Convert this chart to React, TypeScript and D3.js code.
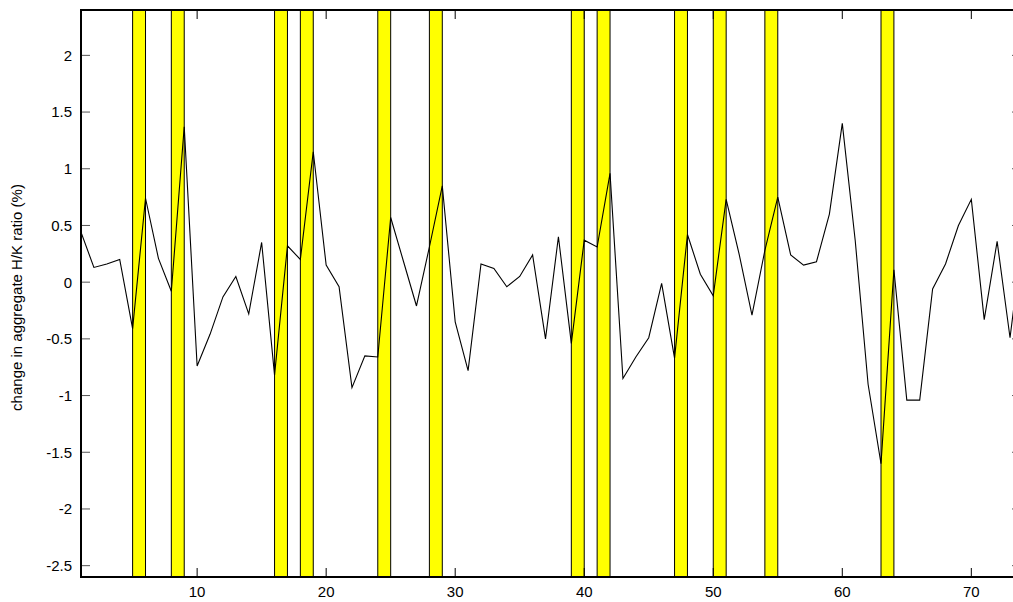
import React from "react";
import * as d3 from "d3";

const W = 1013;
const H = 602;

// change in aggregate H/K ratio (%), one value per period starting at period 1
const values: number[] = [
  0.44, 0.13, 0.16, 0.2, -0.41, 0.74, 0.21, -0.08, 1.37, -0.74,
  -0.46, -0.13, 0.05, -0.28, 0.35, -0.82, 0.32, 0.2, 1.15, 0.15,
  -0.04, -0.93, -0.65, -0.66, 0.57, 0.18, -0.21, 0.31, 0.85, -0.35,
  -0.78, 0.16, 0.12, -0.04, 0.05, 0.24, -0.5, 0.4, -0.54, 0.37,
  0.31, 0.96, -0.85, -0.66, -0.49, -0.01, -0.67, 0.42, 0.07, -0.12,
  0.73, 0.25, -0.29, 0.28, 0.75, 0.24, 0.15, 0.18, 0.6, 1.4,
  0.37, -0.9, -1.6, 0.11, -1.04, -1.04, -0.06, 0.16, 0.5, 0.73,
  -0.33, 0.36, -0.49, 0.42,
];
const periods: number[] = values.map((_, i) => i + 1);

// shaded (yellow) periods: start of each one-period band
const bandStarts: number[] = [5, 8, 16, 18, 24, 28, 39, 41, 47, 50, 54, 63];

const xTicks: number[] = [10, 20, 30, 40, 50, 60, 70];
const yTicks: number[] = [2, 1.5, 1, 0.5, 0, -0.5, -1, -1.5, -2, -2.5];
const yLabel = "change in aggregate H/K ratio (%)";

export default function App() {
  const left = 81;
  const right = 1021;
  const top = 10;
  const bottom = 577;

  const x = d3.scaleLinear().domain([1, 73.85]).range([left, right]);
  const y = d3.scaleLinear().domain([-2.6, 2.4]).range([bottom, top]);

  const line = d3
    .line<number>()
    .x((_, i) => x(periods[i]))
    .y((d) => y(d));

  const font = "'Liberation Sans', Arial, Helvetica, sans-serif";
  const tickLen = 9;

  return (
    <svg
      width={W}
      height={H}
      style={{ position: "absolute", left: 0, top: 0, background: "#fff" }}
    >
      <defs>
        <clipPath id="plot">
          <rect x={left} y={top} width={right - left} height={bottom - top} />
        </clipPath>
      </defs>
      <rect x={0} y={0} width={W} height={H} fill="#fff" />
      <g clipPath="url(#plot)">
        {bandStarts.map((s) => (
          <rect
            key={s}
            x={x(s)}
            y={top}
            width={x(s + 1) - x(s)}
            height={bottom - top}
            fill="#ffff00"
            stroke="#000"
            strokeWidth={1}
          />
        ))}
        <path d={line(values) || ""} fill="none" stroke="#000" strokeWidth={1.1} />
      </g>
      {/* ticks */}
      {yTicks.map((t) => (
        <g key={"y" + t}>
          <line x1={left} x2={left + tickLen} y1={y(t)} y2={y(t)} stroke="#555" strokeWidth={1} />
          <line x1={right} x2={right - tickLen} y1={y(t)} y2={y(t)} stroke="#555" strokeWidth={1} />
          <text
            x={72}
            y={y(t)}
            dy="0.36em"
            textAnchor="end"
            fontFamily={font}
            fontSize={15}
            fill="#000"
          >
            {String(t)}
          </text>
        </g>
      ))}
      {xTicks.map((t) => (
        <g key={"x" + t}>
          <line x1={x(t)} x2={x(t)} y1={bottom} y2={bottom - tickLen} stroke="#000" strokeWidth={1} />
          <line x1={x(t)} x2={x(t)} y1={top} y2={top + tickLen} stroke="#000" strokeWidth={1} />
          <text
            x={x(t)}
            y={597}
            textAnchor="middle"
            fontFamily={font}
            fontSize={15}
            fill="#000"
          >
            {String(t)}
          </text>
        </g>
      ))}
      {/* frame */}
      <rect
        x={left}
        y={top}
        width={right - left}
        height={bottom - top}
        fill="none"
        stroke="#000"
        strokeWidth={2}
      />
      <text
        transform={`translate(22, ${(top + bottom) / 2 + 4}) rotate(-90)`}
        textAnchor="middle"
        fontFamily={font}
        fontSize={15}
        fill="#000"
      >
        {yLabel}
      </text>
    </svg>
  );
}
